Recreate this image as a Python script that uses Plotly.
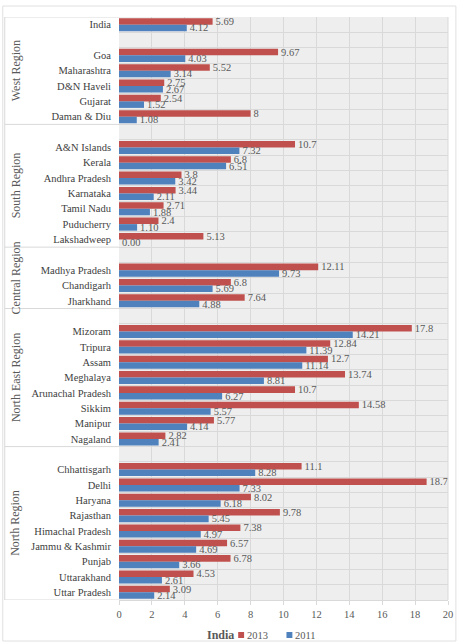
import plotly.graph_objects as go

# ---- data ----
states = ["India", "Goa", "Maharashtra", "D&N Haveli", "Gujarat", "Daman & Diu",
          "A&N Islands", "Kerala", "Andhra Pradesh", "Karnataka", "Tamil Nadu", "Puducherry", "Lakshadweep",
          "Madhya Pradesh", "Chandigarh", "Jharkhand",
          "Mizoram", "Tripura", "Assam", "Meghalaya", "Arunachal Pradesh", "Sikkim", "Manipur", "Nagaland",
          "Chhattisgarh", "Delhi", "Haryana", "Rajasthan", "Himachal Pradesh", "Jammu & Kashmir", "Punjab",
          "Uttarakhand", "Uttar Pradesh"]
regions = (["West Region"] * 6 + ["South Region"] * 7 + ["Central Region"] * 3
           + ["North East Region"] * 8 + ["North Region"] * 9)
# values as printed on the chart
v2013 = ["5.69", "9.67", "5.52", "2.75", "2.54", "8",
         "10.7", "6.8", "3.8", "3.44", "2.71", "2.4", "5.13",
         "12.11", "6.8", "7.64",
         "17.8", "12.84", "12.7", "13.74", "10.7", "14.58", "5.77", "2.82",
         "11.1", "18.7", "8.02", "9.78", "7.38", "6.57", "6.78", "4.53", "3.09"]
v2011 = ["4.12", "4.03", "3.14", "2.67", "1.52", "1.08",
         "7.32", "6.51", "3.42", "2.11", "1.88", "1.10", "0.00",
         "9.73", "5.69", "4.88",
         "14.21", "11.39", "11.14", "8.81", "6.27", "5.57", "4.14", "2.41",
         "8.28", "7.33", "6.18", "5.45", "4.97", "4.69", "3.66", "2.61", "2.14"]
series_names = ["2013", "2011"]
legend_title = "India"
x_ticks = [0, 2, 4, 6, 8, 10, 12, 14, 16, 18, 20]

RED = "#C0504D"
BLUE = "#4F81BD"
TXT = "#595959"
GRID = "#D9D9D9"
FONT = "Liberation Serif, Times New Roman, DejaVu Serif, serif"

# ---- row layout (blank spacer row at the top of each region group) ----
rows, row_region = [], []
n_sp = 0
for i, s in enumerate(states):
    if i > 0 and (regions[i] != regions[i - 1] or states[i - 1] == "India"):
        n_sp += 1
        rows.append(f"__sp{n_sp}")
        row_region.append(regions[i])
    rows.append(s)
    row_region.append(regions[i])
ticktext = ["" if r.startswith("__sp") else r for r in rows]

fig = go.Figure()
colors = [RED, BLUE]
for name, vals, col in zip(series_names, [v2013, v2011], colors):
    fig.add_trace(go.Bar(
        name=name, orientation="h", y=states, x=[float(v) for v in vals],
        marker=dict(color=col, line=dict(width=0)),
        text=vals, textposition="outside", constraintext="none", cliponaxis=False,
        textfont=dict(family=FONT, size=10.5, color=TXT),
        showlegend=False,
    ))

W = 334.0   # plot width px
H = 583.0   # plot height px
left_px = 116.0
shapes = []
annotations = []
groups = []
for idx, rg in enumerate(row_region):
    if not groups or groups[-1][0] != rg:
        groups.append([rg, idx, idx])
    else:
        groups[-1][2] = idx
for rg, a, b in groups:
    annotations.append(dict(
        text=rg, xref="paper", yref="y", x=-(119 - 14) / W, y=(a + b) / 2,
        textangle=-90, showarrow=False, xanchor="center", yanchor="middle",
        font=dict(family=FONT, size=12, color=TXT)))
    shapes.append(dict(type="line", xref="paper", yref="y", x0=-left_px / W, x1=0,
                       y0=b + 0.5, y1=b + 0.5, line=dict(color=GRID, width=1)))
shapes.append(dict(type="line", xref="paper", yref="y", x0=-left_px / W, x1=0,
                   y0=-0.5, y1=-0.5, line=dict(color=GRID, width=1)))
shapes.append(dict(type="line", xref="paper", yref="paper", x0=-left_px / W, x1=-left_px / W,
                   y0=0, y1=1, line=dict(color=GRID, width=1)))
shapes.append(dict(type="rect", xref="paper", yref="paper",
                   x0=-118 / W, x1=1 + 8 / W, y0=-41 / H, y1=1 + 11 / H,
                   line=dict(color="#E0E0E0", width=1), fillcolor="rgba(0,0,0,0)", layer="below"))
shapes.append(dict(type="line", xref="paper", yref="paper", x0=1, x1=1, y0=0, y1=1,
                   line=dict(color=GRID, width=1)))

# custom compact legend below the axis
ly = -(635 - 600) / H
annotations.append(dict(text=f"<b>{legend_title}</b>", xref="paper", yref="paper",
                        x=(206 - 119) / W, y=ly, xanchor="left", yanchor="middle", showarrow=False,
                        font=dict(family=FONT, size=12, color=TXT)))
for name, col, mx in zip(series_names, colors, [240, 289]):
    shapes.append(dict(type="rect", xref="paper", yref="paper",
                       x0=(mx - 119) / W, x1=(mx + 6 - 119) / W,
                       y0=ly - 3 / H, y1=ly + 3 / H,
                       fillcolor=col, line=dict(width=0)))
    annotations.append(dict(text=name, xref="paper", yref="paper",
                            x=(mx + 7 - 119) / W, y=ly, xanchor="left", yanchor="middle", showarrow=False,
                            font=dict(family=FONT, size=10.5, color=TXT)))

fig.update_layout(
    width=463, height=643,
    margin=dict(l=119, r=10, t=17, b=43),
    paper_bgcolor="white", plot_bgcolor="#EEEEEE",
    barmode="group", bargap=0.15, bargroupgap=0,
    font=dict(family=FONT, size=10, color=TXT),
    shapes=shapes, annotations=annotations,
    showlegend=False,
    xaxis=dict(range=[0, 20], tickvals=x_ticks, showgrid=True, gridcolor=GRID, gridwidth=1,
               zeroline=False, showline=True, linecolor=GRID, mirror=False,
               ticks="outside", ticklen=4, tickcolor=GRID,
               tickfont=dict(family=FONT, size=10.5, color=TXT)),
    yaxis=dict(type="category", categoryarray=rows, categoryorder="array",
               tickvals=rows, ticktext=ticktext, range=[len(rows) - 0.5, -0.5],
               tickson="boundaries", showgrid=True, gridcolor=GRID, gridwidth=1,
               ticks="", ticklabelstandoff=7, showline=False, zeroline=False,
               tickfont=dict(family=FONT, size=10.5, color="#404040")),
)

fig.write_html("out.html")
